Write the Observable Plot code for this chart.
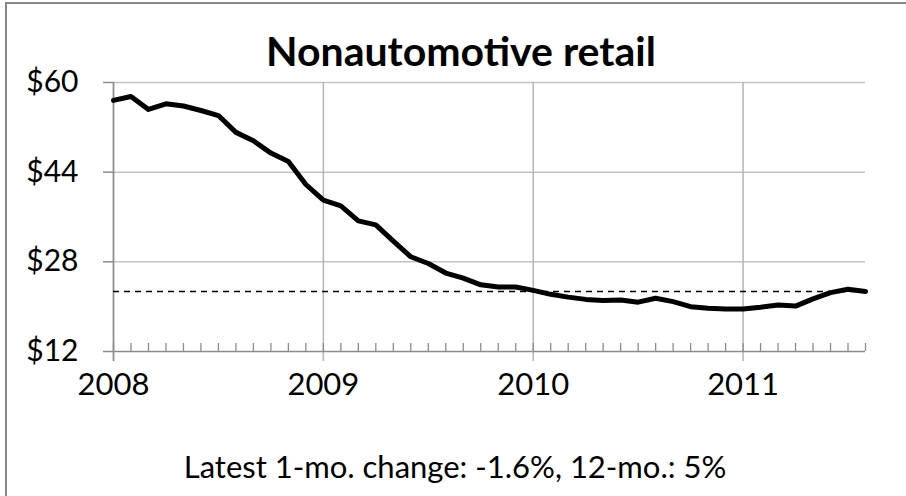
<!DOCTYPE html>
<html>
<head>
<meta charset="utf-8">
<script src="https://cdn.jsdelivr.net/npm/d3@7"></script>
<script src="https://cdn.jsdelivr.net/npm/@observablehq/plot@0.6"></script>
<style>
  html, body { margin: 0; padding: 0; background: #fff; }
  #wrap { position: relative; width: 906px; height: 496px; overflow: hidden; font-family: Lato, "Open Sans", sans-serif; }
  #border { position: absolute; left: 5px; top: 2px; width: 1000px; height: 1000px; border-top: 2px solid #888; border-left: 2px solid #888; box-sizing: border-box; }
  #title { position: absolute; left: 0; width: 922px; top: 30px; text-align: center; font-weight: 700; font-size: 41px; line-height: 1; color: #000; }
  #caption { position: absolute; left: 0; width: 910px; top: 451px; text-align: center; font-size: 31px; line-height: 1; color: #000; }
  #chart { position: absolute; left: 0; top: 0; }
</style>
</head>
<body>
<div id="wrap">
  <div id="border"></div>
  <div id="chart"></div>
  <div id="title">Nonautomotive retail</div>
  <div id="caption">Latest 1-mo. change: -1.6%, 12-mo.: 5%</div>
</div>
<script>
// Monthly values, Jan 2008 – Aug 2011
const startYear = 2008;
const years = [2008, 2009, 2010, 2011];
const yTicks = [12, 28, 44, 60];
const values = [
  56.8, 57.5, 55.2, 56.2, 55.8, 55.0, 54.1, 51.1, 49.6, 47.4, 45.9, 41.8,
  39.0, 38.0, 35.3, 34.6, 31.7, 28.9, 27.7, 26.0, 25.1, 23.9, 23.5, 23.5,
  22.9, 22.2, 21.7, 21.3, 21.1, 21.2, 20.8, 21.5, 20.9, 20.0, 19.7, 19.6,
  19.6, 19.9, 20.3, 20.1, 21.4, 22.5, 23.1, 22.7
];
const latestLevel = 22.7;

const data = values.map((v, i) => ({i, v}));
const months = values.map((v, i) => i);
const yearIdx = years.map(y => (y - startYear) * 12);
const lastIdx = values.length - 1;

const chart = Plot.plot({
  width: 906,
  height: 496,
  marginLeft: 113,
  marginRight: 41,
  marginTop: 82,
  marginBottom: 145,
  style: {fontFamily: "Lato, 'Open Sans', sans-serif", background: "transparent", overflow: "visible"},
  x: {domain: [0, lastIdx], type: "linear", label: null},
  y: {domain: [12, 60], label: null},
  marks: [
    // horizontal gridlines
    Plot.ruleY(yTicks.slice(1), {x1: 0, x2: lastIdx, stroke: "#c3c3c3", strokeWidth: 1.5}),
    // vertical gridlines at years, extending below the axis
    Plot.ruleX(yearIdx, {y1: 60, y2: 12, insetBottom: -10, stroke: "#b5b5b5", strokeWidth: 1.5}),
    // monthly minor ticks
    Plot.ruleX(months, {y1: 12, y2: 12, insetTop: -8, stroke: "#8c8c8c", strokeWidth: 1.3}),
    // axis lines
    Plot.ruleX([0], {y1: 60, y2: 12, insetBottom: -10, stroke: "#8c8c8c", strokeWidth: 1.5}),
    Plot.ruleY([12], {x1: 0, x2: lastIdx, stroke: "#8c8c8c", strokeWidth: 1.5}),
    Plot.axisY({
      ticks: yTicks, tickFormat: d => "$" + d, tickSize: 10, tickPadding: 25, label: null,
      stroke: "#8c8c8c", fill: "#000", fontSize: 30, strokeWidth: 1.5
    }),
    Plot.axisX({
      ticks: yearIdx, tickFormat: i => String(years[i / 12]), tickSize: 0, tickPadding: 21, label: null,
      fill: "#000", fontSize: 31
    }),
    // reference dashed line at the latest level
    Plot.ruleY([latestLevel], {x1: 0, x2: lastIdx, stroke: "#000", strokeWidth: 1.6, strokeDasharray: "6,5"}),
    // series
    Plot.line(data, {x: "i", y: "v", stroke: "#000", strokeWidth: 5, strokeLinejoin: "round", strokeLinecap: "round"})
  ]
});
document.getElementById("chart").appendChild(chart);
</script>
</body>
</html>
